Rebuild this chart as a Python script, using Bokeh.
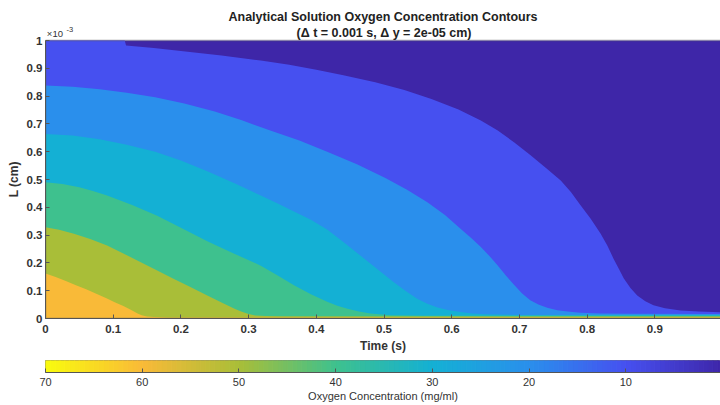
from bokeh.plotting import figure
from bokeh.layouts import column
from bokeh.models import Range1d, Title, FixedTicker, CustomJSTickFormatter, BoxAnnotation
from bokeh.core.properties import value
from bokeh.embed import file_html
from bokeh.resources import INLINE

FONT = "Liberation Sans"
INK = "#333333"

# Contour levels (mg/ml) and the fill colour of each band [level, next level)
levels = [0, 10, 20, 30, 40, 50, 60, 70]
band_colors = ["#3E26A8", "#4650F0", "#2A8FEC", "#14B0D4", "#3EC18E", "#A9BE38", "#F9BA38"]
top_color = "#F9FB0E"

# Solution domain: time span (s) and slab thickness (x 1e-3 cm)
t_span = [0.0, 1.0]
L_span = [0.0, 1.0]

# Iso-concentration lines: time (s) vs depth L (x 1e-3 cm)
t_c10 = [0.0, 0.117, 0.119, 0.16, 0.2, 0.26, 0.318, 0.36, 0.4, 0.44, 0.487, 0.53, 0.57,
         0.61, 0.643, 0.668, 0.692, 0.716, 0.741, 0.761, 0.776, 0.79, 0.805, 0.82, 0.83,
         0.839, 0.847, 0.854, 0.864, 0.874, 0.886, 0.898, 0.915, 0.938, 0.965, 1.0]
L_c10 = [1.0, 1.0, 0.982, 0.973, 0.962, 0.946, 0.928, 0.913, 0.895, 0.875, 0.850, 0.822, 0.790,
         0.752, 0.712, 0.676, 0.634, 0.588, 0.538, 0.496, 0.455, 0.408, 0.360, 0.305, 0.262,
         0.215, 0.178, 0.145, 0.110, 0.083, 0.062, 0.048, 0.037, 0.029, 0.025, 0.022]

t_c20 = [0.0, 0.04, 0.08, 0.12, 0.162, 0.205, 0.25, 0.29, 0.332, 0.375, 0.416, 0.46, 0.502,
         0.534, 0.564, 0.59, 0.613, 0.63, 0.643, 0.656, 0.667, 0.68, 0.692, 0.704, 0.716,
         0.728, 0.741, 0.756, 0.771, 0.79, 0.82, 0.86, 1.0]
L_c20 = [0.838, 0.834, 0.825, 0.812, 0.796, 0.773, 0.745, 0.713, 0.676, 0.640, 0.600, 0.555,
         0.505, 0.463, 0.418, 0.372, 0.323, 0.287, 0.257, 0.224, 0.193, 0.155, 0.121, 0.090,
         0.066, 0.050, 0.039, 0.030, 0.025, 0.021, 0.018, 0.017, 0.016]

t_c30 = [0.0, 0.04, 0.08, 0.12, 0.162, 0.2, 0.239, 0.28, 0.318, 0.343, 0.367, 0.392, 0.416,
         0.44, 0.465, 0.49, 0.514, 0.532, 0.549, 0.564, 0.579, 0.596, 0.613, 0.63, 0.65,
         0.70, 1.0]
L_c30 = [0.664, 0.658, 0.645, 0.625, 0.600, 0.568, 0.530, 0.486, 0.442, 0.414, 0.385, 0.355,
         0.320, 0.275, 0.227, 0.178, 0.131, 0.099, 0.071, 0.053, 0.040, 0.030, 0.023, 0.018,
         0.015, 0.013, 0.013]

t_c40 = [0.0, 0.025, 0.05, 0.07, 0.091, 0.128, 0.165, 0.2, 0.239, 0.278, 0.318, 0.343, 0.367,
         0.392, 0.416, 0.431, 0.446, 0.463, 0.48, 0.51, 0.56, 1.0]
L_c40 = [0.490, 0.484, 0.472, 0.459, 0.442, 0.408, 0.370, 0.326, 0.278, 0.234, 0.190, 0.155,
         0.120, 0.087, 0.060, 0.046, 0.035, 0.025, 0.018, 0.012, 0.010, 0.010]

t_c50 = [0.0, 0.02, 0.042, 0.066, 0.091, 0.115, 0.14, 0.165, 0.189, 0.214, 0.239, 0.26, 0.28,
         0.29, 0.30, 0.31, 0.325, 0.35, 1.0]
L_c50 = [0.328, 0.319, 0.305, 0.286, 0.263, 0.234, 0.203, 0.173, 0.143, 0.113, 0.083, 0.058,
         0.034, 0.024, 0.016, 0.011, 0.009, 0.008, 0.007]

t_c60 = [0.0, 0.015, 0.03, 0.045, 0.06, 0.075, 0.09, 0.103, 0.115, 0.123, 0.13, 0.136, 0.142,
         0.15, 0.16, 0.18, 1.0]
L_c60 = [0.162, 0.149, 0.135, 0.120, 0.105, 0.089, 0.073, 0.058, 0.045, 0.035, 0.026, 0.018,
         0.012, 0.007, 0.005, 0.004, 0.004]

iso_t = [t_c10, t_c20, t_c30, t_c40, t_c50, t_c60]
iso_L = [L_c10, L_c20, L_c30, L_c40, L_c50, L_c60]

time_ticks = [0, 0.1, 0.2, 0.3, 0.4, 0.5, 0.6, 0.7, 0.8, 0.9]
depth_ticks = [0, 0.1, 0.2, 0.3, 0.4, 0.5, 0.6, 0.7, 0.8, 0.9, 1.0]
cbar_ticks = [70, 60, 50, 40, 30, 20, 10, 0]

title_main = "Analytical Solution Oxygen Concentration Contours"
title_sub = "(\u0394 t = 0.001 s, \u0394 y = 2e-05 cm)"
depth_exponent = ["\u00d710", "-3"]
# trailing no-break spaces keep the rotated label centred on the box, not on the frame
depth_label = "L (cm)" + "\u00a0" * 5

one_decimal = CustomJSTickFormatter(code="return tick.toFixed(1).replace(/\\.0$/, '');")

# plot geometry in pixels
FRAME_PX = 278.0          # height of the contour box
HEAD_PX = 17.0            # strip kept above the box for the subtitle and exponent


def px_above_top(px):
    """Depth coordinate of a point `px` pixels above the top of the box."""
    return L_span[1] + px / FRAME_PX


def style_axis(ax, size="11px"):
    ax.major_tick_in = 4
    ax.major_tick_out = 0
    ax.minor_tick_in = 0
    ax.minor_tick_out = 0
    ax.axis_line_color = "#555555"
    ax.major_tick_line_color = "#555555"
    ax.major_label_text_font = FONT
    ax.major_label_text_font_size = size
    ax.major_label_text_font_style = "bold"
    ax.major_label_text_color = INK
    ax.axis_label_text_font = FONT
    ax.axis_label_text_font_size = "12px"
    ax.axis_label_text_font_style = "bold"
    ax.axis_label_text_color = INK


# ---- contour panel ----
p = figure(width=720, height=355, x_range=Range1d(0, 0.997),
           y_range=Range1d(L_span[0], px_above_top(HEAD_PX)),
           output_backend="svg", toolbar_location=None, title=None,
           min_border_left=45, min_border_right=0, min_border_top=23, min_border_bottom=37)
p.background_fill_color = "white"
p.border_fill_color = "white"
p.grid.visible = False
p.outline_line_color = None

# lowest band fills the whole domain, every higher band is painted from the floor up to
# its lower iso-line and overlays the previous one
p.varea(x=t_span, y1=[L_span[0]] * 2, y2=[L_span[1]] * 2, fill_color=band_colors[0])
for ts, Ls, col in zip(iso_t, iso_L, band_colors[1:]):
    p.varea(x=ts, y1=[L_span[0]] * len(ts), y2=Ls, fill_color=col)

# box round the domain
p.add_layout(BoxAnnotation(left=t_span[0], right=t_span[1], bottom=L_span[0], top=L_span[1],
                           fill_alpha=0, line_color="#555555", line_width=2))

style_axis(p.xaxis[0], "11.5px")
style_axis(p.yaxis[0], "11.5px")
p.yaxis.bounds = (L_span[0], L_span[1])
p.xaxis.ticker = FixedTicker(ticks=time_ticks)
p.yaxis.ticker = FixedTicker(ticks=depth_ticks)
p.xaxis.formatter = one_decimal
p.yaxis.formatter = one_decimal
p.xaxis.axis_label = "Time (s)"
p.yaxis.axis_label = depth_label
p.xaxis.major_label_standoff = 6
p.xaxis.axis_label_standoff = 3
p.yaxis.major_label_standoff = 3
p.yaxis.axis_label_standoff = 3

# subtitle and the x10^-3 exponent of the depth axis, in the strip above the box
p.text(x=[0.5], y=[px_above_top(8)], text=[title_sub], text_font=value(FONT),
       text_font_size="12.5px", text_font_style="bold", text_color="#222222",
       text_align="center", text_baseline="middle")
p.text(x=[0.002], y=[px_above_top(7.5)], text=[depth_exponent[0]], text_font=value(FONT),
       text_font_size="9.5px", text_color=INK, text_align="left", text_baseline="middle")
p.text(x=[0.031], y=[px_above_top(11)], text=[depth_exponent[1]], text_font=value(FONT),
       text_font_size="7.5px", text_color=INK, text_align="left", text_baseline="middle")

p.add_layout(Title(text=title_main, align="center", text_font=FONT, text_font_size="12.5px",
                   text_font_style="bold", text_color="#222222", standoff=0), "above")


# ---- colour bar (70 on the left, 0 on the right) ----
def hex_rgb(h):
    return tuple(int(h[i:i + 2], 16) for i in (1, 3, 5))


anchor_colors = band_colors + [top_color]
step = 0.5
bar_centers, bar_colors = [], []
v = step / 2
while v < 70:
    k = min(int(v // 10), 6)
    f = (v - levels[k]) / 10.0
    a, b = hex_rgb(anchor_colors[k]), hex_rgb(anchor_colors[k + 1])
    rgb = tuple(round(a[i] + (b[i] - a[i]) * f) for i in range(3))
    bar_centers.append(v)
    bar_colors.append("#%02x%02x%02x" % rgb)
    v += step

cb = figure(width=720, height=50, x_range=Range1d(70, 0.21), y_range=Range1d(0, 1),
            output_backend="svg", toolbar_location=None, title=None, y_axis_location=None,
            min_border_left=45, min_border_right=0, min_border_top=5, min_border_bottom=33)
cb.vbar(x=bar_centers, width=step, bottom=0, top=1, fill_color=bar_colors,
        line_color=bar_colors, line_width=1)
cb.grid.visible = False
cb.outline_line_color = "#777777"
cb.border_fill_color = "white"
style_axis(cb.xaxis[0])
cb.xaxis.ticker = FixedTicker(ticks=cbar_ticks)
cb.xaxis.major_label_standoff = 5
cb.xaxis.axis_label = "Oxygen Concentration (mg/ml)"
cb.xaxis.axis_label_standoff = 1
cb.xaxis.axis_label_text_font_style = "normal"
cb.xaxis.axis_label_text_font_size = "11px"
cb.xaxis.major_label_text_font_style = "normal"

layout = column(p, cb, spacing=0)
open("out.html", "w").write(file_html(layout, INLINE))
